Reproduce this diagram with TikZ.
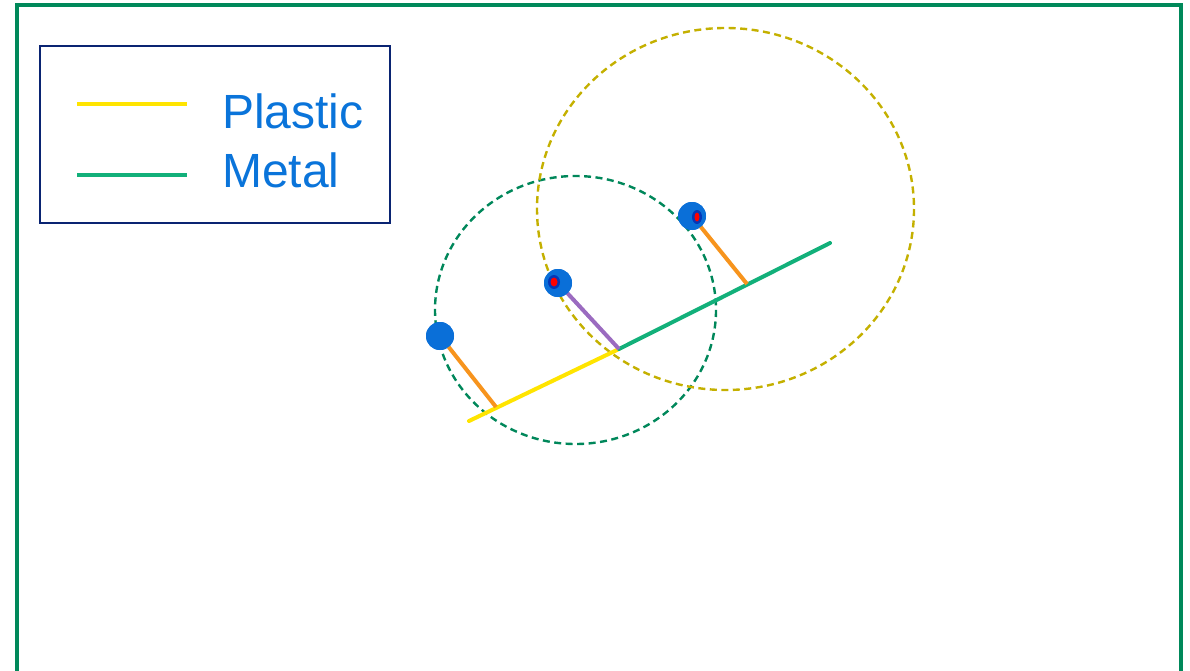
\documentclass[tikz,border=0pt]{standalone}
\usepackage{fontspec}
\setmainfont{Liberation Sans}
\begin{document}
\begin{tikzpicture}[x=1pt,y=-1pt,
  frame/.style={draw=framegreen,line width=4pt},
  legendbox/.style={draw=navy,line width=2pt},
  plastic/.style={draw=plasticyellow,line width=4pt},
  metal/.style={draw=metalgreen,line width=4pt},
  link/.style={draw=linkorange,line width=4pt},
  linkp/.style={draw=linkpurple,line width=4pt},
  dashcircle/.style={line width=2.4pt,dash pattern=on 7pt off 4.5pt},
  joint/.style={circle,fill=jointblue,minimum size=28pt,inner sep=0pt},
  legtext/.style={text=textblue,font=\fontsize{48}{50}\selectfont,anchor=base west,inner sep=0pt}
]
\definecolor{framegreen}{HTML}{00895A}
\definecolor{navy}{HTML}{0A2472}
\definecolor{plasticyellow}{HTML}{FFE400}
\definecolor{metalgreen}{HTML}{12B07A}
\definecolor{linkorange}{HTML}{F7941D}
\definecolor{linkpurple}{HTML}{9B6BC0}
\definecolor{olive}{HTML}{C4B000}
\definecolor{dgreen}{HTML}{00875A}
\definecolor{jointblue}{HTML}{0A6FD8}
\definecolor{textblue}{HTML}{0A74DA}
\useasboundingbox (0,0) rectangle (1190,671);
% frame
\draw[frame] (17,690) -- (17,5) -- (1181,5) -- (1181,690);
% legend
\draw[legendbox] (40,46) rectangle (390,223);
\coordinate (lp1) at (77,104); \coordinate (lp2) at (187,104);
\coordinate (lm1) at (77,175); \coordinate (lm2) at (187,175);
\draw[plastic] (lp1) -- (lp2);
\draw[metal] (lm1) -- (lm2);
\node[legtext] (tp) at (222,129) {Plastic};
\node[legtext] (tm) at (222,187) {Metal};
% dashed circles
\draw[dashcircle,draw=dgreen] (575.5,310) ellipse [x radius=140.5,y radius=134];
\draw[dashcircle,draw=olive] (725.5,209) ellipse [x radius=188.5,y radius=181];
% links
\coordinate (a) at (469,421);
\coordinate (m) at (619,349);
\coordinate (b) at (830,243);
\coordinate (f1) at (496,407);
\coordinate (f2) at (747,284);
\node[joint] (j1) at (440,336) {};
\node[joint] (j2) at (558,283) {};
\node[joint] (j3) at (692,216) {};
\draw[plastic,line cap=round] (a) -- (m);
\draw[metal,line cap=round] (m) -- (b);
\draw[link] (j1.center) -- (f1);
\draw[linkp] (j2.center) -- (m);
\draw[link] (j3.center) -- (f2);
\node[joint] at (j1) {};
\node[joint] at (j2) {};
\node[joint] at (j3) {};
\fill[blue!60!black,opacity=0.5] (554,282) ellipse [x radius=6,y radius=7];
\fill[red] (554,282) ellipse [x radius=3.5,y radius=4.5];
\fill[blue!60!black,opacity=0.5] (697,217) ellipse [x radius=5,y radius=7];
\fill[red] (697,217) ellipse [x radius=2.5,y radius=4.5];
\end{tikzpicture}
\end{document}
